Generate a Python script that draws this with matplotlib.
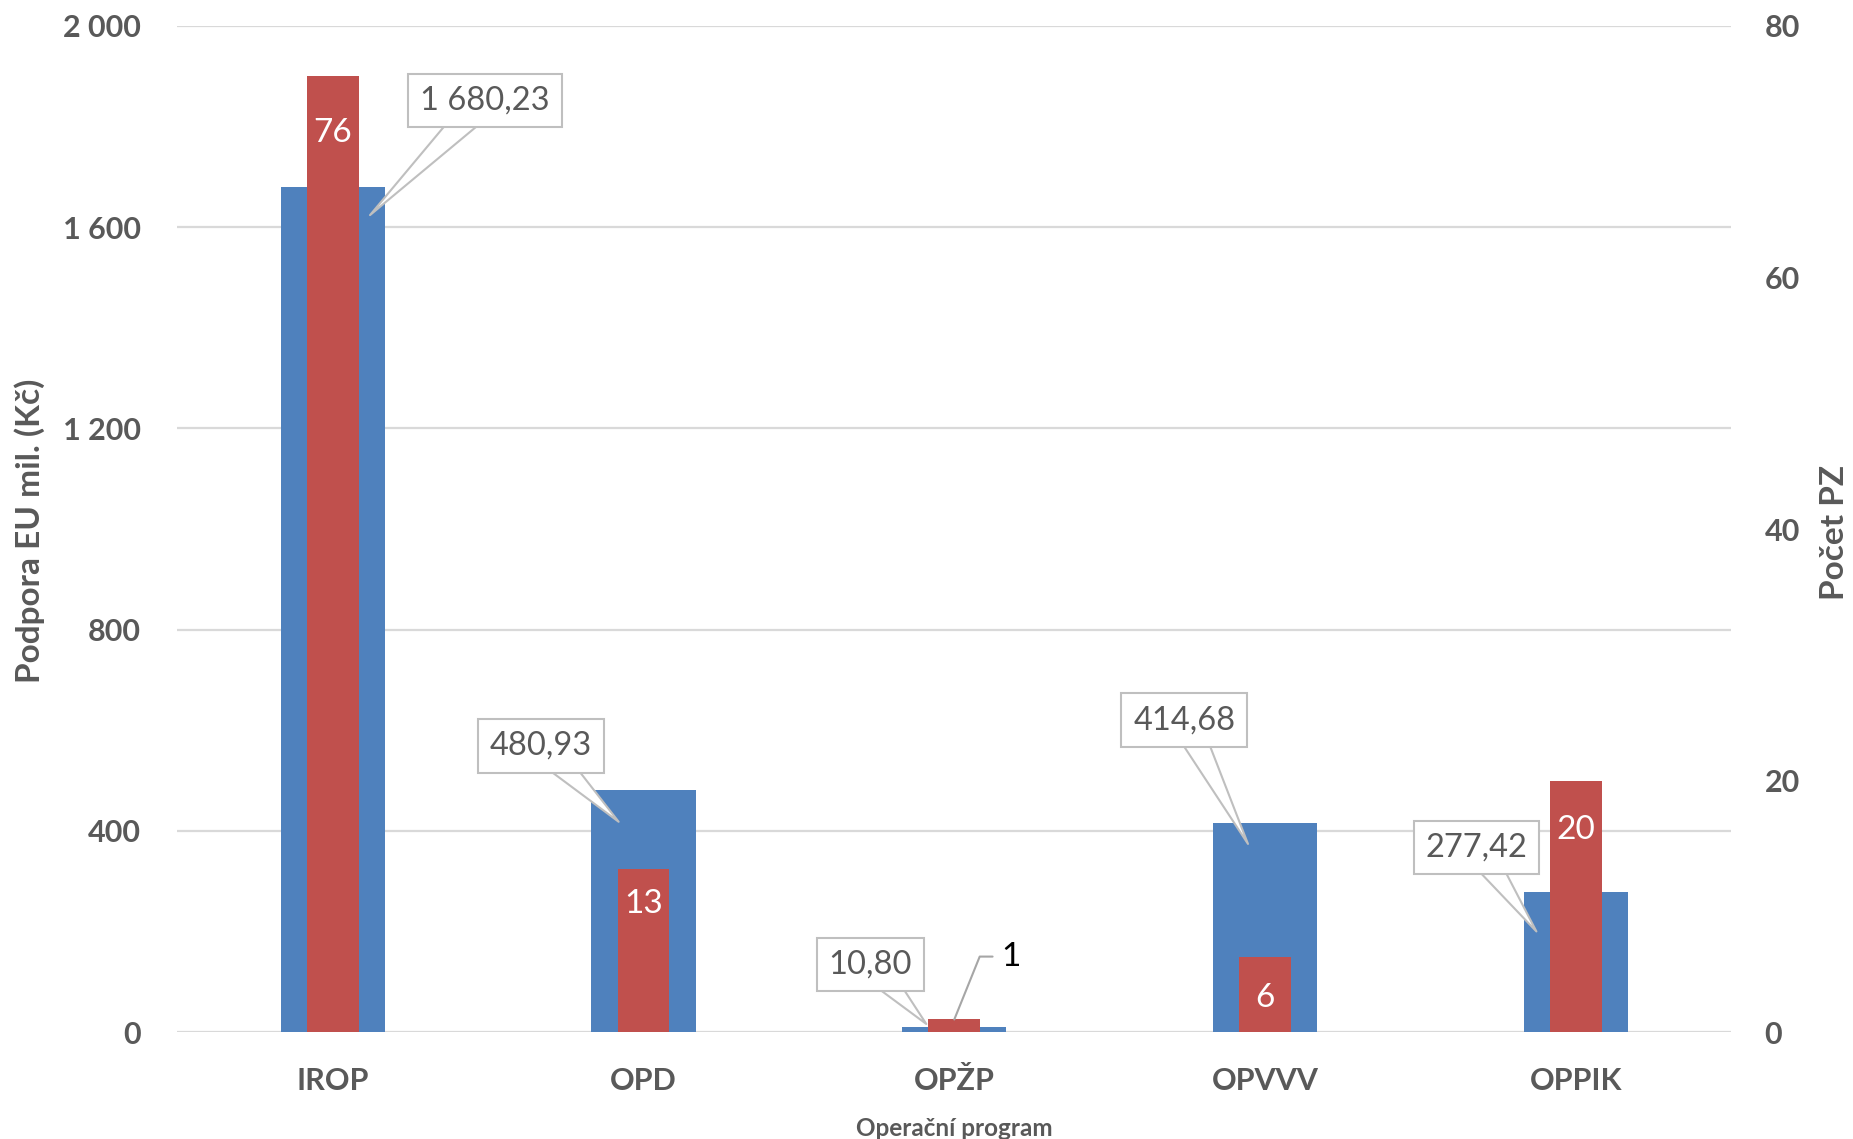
import matplotlib.pyplot as plt

plt.rcParams['font.family'] = ['Lato', 'DejaVu Sans']

# data
programs = ['IROP', 'OPD', 'OPŽP', 'OPVVV', 'OPPIK']
podpora = [1680.23, 480.93, 10.80, 414.68, 277.42]
pocet = [76, 13, 1, 6, 20]
left_ticks = [0, 400, 800, 1200, 1600, 2000]
right_ticks = [0, 20, 40, 60, 80]

# callout box centres / pointer tips for the blue labels (left-axis units)
box_pos = [(0.99, 1852), (1.17, 569), (2.23, 134), (3.24, 620), (4.18, 367)]
tip_pos = [(0.62, 1624), (1.42, 418), (2.41, 16), (3.445, 374), (4.373, 200)]
red_offsets = [-41, -25.5, -27, -29.6, -35.5]

blue = '#4F81BD'
red = '#C0504D'
grey = '#595959'
grid_c = '#D9D9D9'

fig = plt.figure(figsize=(18.53, 11.39), dpi=100)
ax = fig.add_axes([0.0957, 0.0939, 0.8386, 0.8833])
ax2 = ax.twinx()

x = [i + 0.5 for i in range(len(programs))]

ax.bar(x, podpora, width=0.335, color=blue, zorder=2)
rbars = ax2.bar(x, pocet, width=0.167, color=red, zorder=2)

ax.set_xlim(0, 5)
ax.set_ylim(0, 2000)
ax2.set_ylim(0, 80)
ax.set_yticks(left_ticks)
ax.set_yticklabels([f'{v:,}'.replace(',', ' ') for v in left_ticks],
                   fontweight='bold', fontsize=22)
ax2.set_yticks(right_ticks)
ax2.set_yticklabels([str(v) for v in right_ticks], fontweight='bold', fontsize=22)
ax.set_xticks(x)
ax.set_xticklabels(programs, fontweight='bold', fontsize=22)

ax.grid(axis='y', color=grid_c, linewidth=1.6, zorder=0)
ax.set_axisbelow(True)
for a in (ax, ax2):
    for s in a.spines.values():
        s.set_visible(False)
    a.tick_params(length=0, colors=grey)
ax.tick_params(axis='y', pad=26)
ax2.tick_params(axis='y', pad=24)
ax.tick_params(axis='x', pad=25)

fig.text(30 / 1853, 1 - 531 / 1139, 'Podpora EU mil. (Kč)', rotation=90,
         ha='center', va='center', fontsize=24, fontweight='bold', color=grey)
fig.text(1835 / 1853, 1 - 532 / 1139, 'Počet PZ', rotation=90,
         ha='center', va='center', fontsize=24, fontweight='bold', color=grey)
fig.text(954 / 1853, 1 - 1128 / 1139, 'Operační program',
         ha='center', va='center', fontsize=17.5, fontweight='bold', color=grey)

# blue value callouts
for v, (bx, by), (tx, ty) in zip(podpora, box_pos, tip_pos):
    txt = f'{v:,.2f}'.replace(',', ' ').replace('.', ',')
    ax.annotate(txt, xy=(tx, ty), xytext=(bx, by), ha='center', va='center',
                fontsize=23.5, color=grey, zorder=5,
                bbox=dict(boxstyle='square,pad=0.36', fc='white', ec='#BFBFBF', lw=1.5),
                arrowprops=dict(arrowstyle='wedge,tail_width=0.9,shrink_factor=0.5',
                                fc='white', ec='#BFBFBF', lw=1.5,
                                patchA=None, shrinkA=0, shrinkB=0))

# red value labels
for i, (b, v) in enumerate(zip(rbars, pocet)):
    xc = b.get_x() + b.get_width() / 2
    if v < 3:
        ax2.annotate(str(v), xy=(xc, v), xytext=(2.65, 6.0), ha='left', va='center',
                     fontsize=24, color='black', zorder=5,
                     arrowprops=dict(arrowstyle='-', color='#A6A6A6', lw=1.5,
                                     connectionstyle='angle,angleA=0,angleB=68,rad=0',
                                     shrinkA=4, shrinkB=0))
    else:
        ax2.annotate(str(v), xy=(xc, v), xytext=(0, red_offsets[i]),
                     textcoords='offset points', ha='center', va='center',
                     fontsize=24, color='white', zorder=5)

fig.savefig('out.png', dpi=100)
